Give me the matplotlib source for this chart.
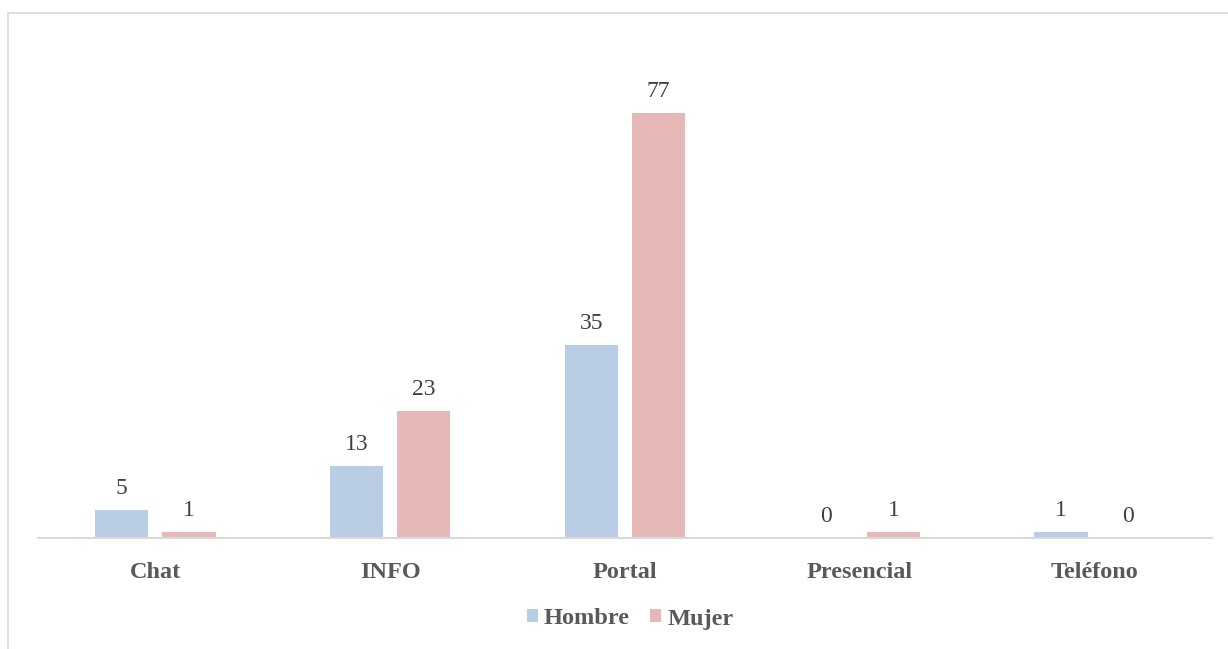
import matplotlib.pyplot as plt
import matplotlib.patches as mpatches
import numpy as np

categories = ['Chat', 'INFO', 'Portal', 'Presencial', 'Teléfono']
hombre = [5, 13, 35, 0, 1]
mujer = [1, 23, 77, 1, 0]

plt.rcParams['font.family'] = 'Liberation Serif'

fig = plt.figure(figsize=(12.28, 6.49), dpi=100)
# outer chart border (cut off on right and bottom)
fig.patches.append(mpatches.Rectangle((8 / 1228, -0.1), 1.1, 1 - 13 / 649 + 0.1,
                                      transform=fig.transFigure, fill=False,
                                      edgecolor='#D9D9D9', linewidth=1.2))

ax = fig.add_axes([38 / 1228, 1 - 538 / 649, 1174 / 1228, (538 - 69) / 649])
x = np.arange(len(categories))
w = 0.226
off = 0.143
b1 = ax.bar(x - off, hombre, w, color='#B9CDE5', label='Hombre')
b2 = ax.bar(x + off, mujer, w, color='#E6B9B8', label='Mujer')

for bars, vals in ((b1, hombre), (b2, mujer)):
    for r, v in zip(bars, vals):
        ax.annotate(str(v), (r.get_x() + r.get_width() / 2, v), xytext=(0, 8),
                    textcoords='offset points', ha='center', va='bottom',
                    fontsize=17, color='#404040')

ax.set_xlim(-0.5, 4.5)
ax.set_ylim(0, 85)
ax.set_yticks([])
ax.set_xticks(x)
ax.set_xticklabels(categories, fontsize=17.5, fontweight='bold', color='#595959')
ax.tick_params(axis='x', length=0, pad=17)
for s in ['top', 'right', 'left']:
    ax.spines[s].set_visible(False)
ax.spines['bottom'].set_color('#D9D9D9')
ax.spines['bottom'].set_linewidth(1.5)

leg = fig.legend(loc='center', bbox_to_anchor=(630 / 1228, 1 - 619 / 649), ncol=2,
                 frameon=False, handlelength=0.45, handleheight=0.45, handletextpad=0.25,
                 columnspacing=0.85, prop={'size': 17.5, 'weight': 'bold'})
for t in leg.get_texts():
    t.set_color('#595959')

fig.savefig('out.png', dpi=100)
